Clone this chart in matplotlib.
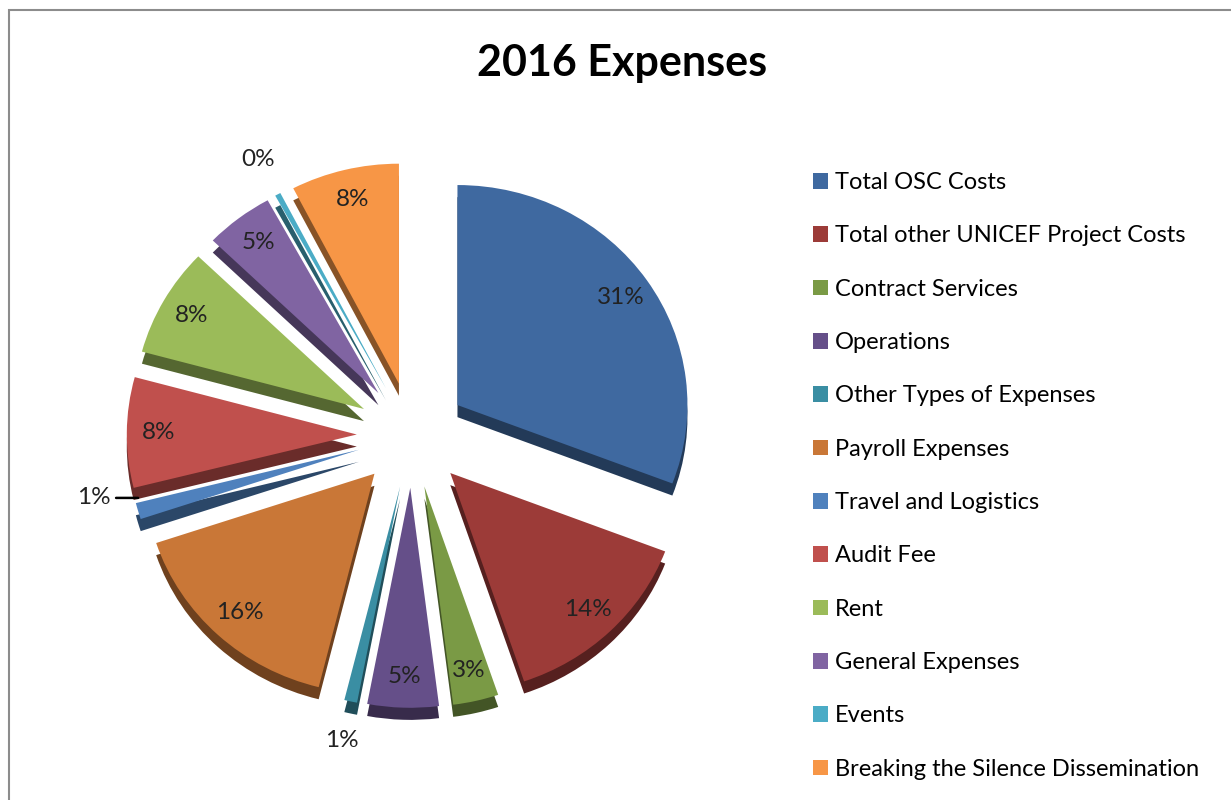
import matplotlib
matplotlib.use('Agg')
import matplotlib.pyplot as plt
import numpy as np
from matplotlib.colors import to_rgb
from matplotlib.patches import Rectangle

categories = ["Total OSC Costs", "Total other UNICEF Project Costs", "Contract Services",
              "Operations", "Other Types of Expenses", "Payroll Expenses",
              "Travel and Logistics", "Audit Fee", "Rent", "General Expenses", "Events",
              "Breaking the Silence Dissemination"]
shares = [30.8, 14.0, 3.2, 5.0, 0.9, 16.0, 1.2, 8.1, 8.0, 4.8, 0.4, 7.6]
colors = ["#3F69A0", "#9C3B38", "#7A9A45", "#654F89", "#3A8EA3", "#C97737",
          "#4F81BD", "#C0504D", "#9BBB59", "#8064A2", "#4BACC6", "#F79646"]
title = "2016 Expenses"

plt.rcParams['font.family'] = ['Lato', 'DejaVu Sans']

W, H = 1231, 800
fig = plt.figure(figsize=(W / 100, H / 100), dpi=100)

# pie axes (left part of the figure)
AX_W = 800
ax = fig.add_axes([0, 0, AX_W / W, 1])
explode = [0.24] * len(shares)
depth = 0.055
dark = [tuple(c * 0.55 for c in to_rgb(col)) for col in colors]

# side (depth) of the 3D pie
ax.pie(shares, explode=explode, colors=dark, startangle=90, counterclock=False,
       center=(0, -depth), wedgeprops=dict(linewidth=0, zorder=1))
# top faces
wedges, texts, autotexts = ax.pie(
    shares, explode=explode, colors=colors, startangle=90, counterclock=False,
    autopct='%.0f%%', pctdistance=0.86,
    textprops=dict(fontsize=17.5, color='#222222'),
    wedgeprops=dict(linewidth=0, zorder=2))

# labels of very small slices go outside
for i, (w, t) in enumerate(zip(wedges, autotexts)):
    if shares[i] < 1.5:
        ang = np.deg2rad((w.theta1 + w.theta2) / 2)
        cx, cy = w.center
        if categories[i] == "Travel and Logistics":
            ex, ey = cx + np.cos(ang), cy + np.sin(ang) + 0.06
            t.set_visible(False)
            ax.annotate(t.get_text(), xy=(ex, ey), xytext=(ex - 0.12, ey),
                        ha='right', va='center', fontsize=17.5, color='#222222',
                        arrowprops=dict(arrowstyle='-', color='black', lw=1.8,
                                        shrinkA=2, shrinkB=0))
        else:
            t.set_position((cx + 1.18 * np.cos(ang), cy + 1.18 * np.sin(ang)))

ax.set_aspect('auto')
ax.set_xlim(-412 / 230, (AX_W - 412) / 230)
ax.set_ylim(-365 / 220, 435 / 220)
ax.axis('off')

fig.text(622 / W, 1 - 63 / H, title, ha='center', va='center',
         fontsize=31, fontweight='bold')

fig.add_artist(Rectangle((9 / W, -0.1), 1.2, 1 - 10 / H + 0.1,
                         transform=fig.transFigure, fill=False,
                         edgecolor='#8c8c8c', lw=1.5))

fig.legend(wedges, categories, loc='upper left',
           bbox_to_anchor=(813 / W, 1 - 172 / H), frameon=False, fontsize=17,
           handlelength=0.64, handleheight=0.64, handletextpad=0.3,
           labelspacing=1.37, borderpad=0, borderaxespad=0)

fig.savefig('out.png', dpi=100)
